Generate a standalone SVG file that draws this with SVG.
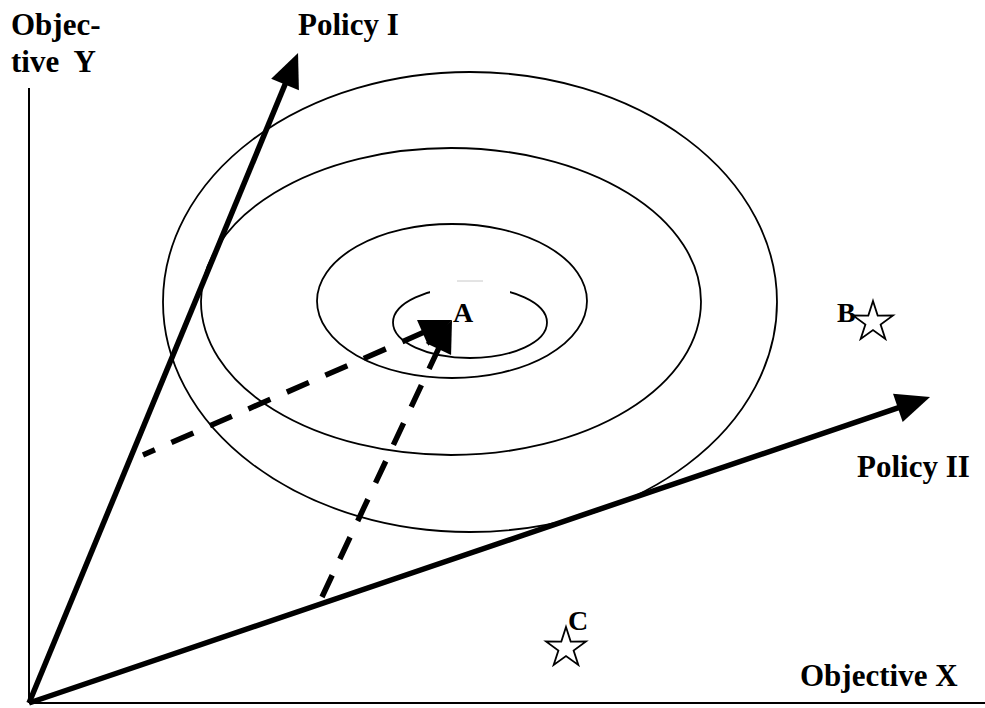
<svg xmlns="http://www.w3.org/2000/svg" width="985" height="708" viewBox="0 0 985 708">
  <style>
    .lbl { font-family: "Liberation Serif", "Times New Roman", serif; font-weight: bold; font-size: 31px; fill: #000; }
    .pt { font-family: "Liberation Serif", "Times New Roman", serif; font-weight: bold; font-size: 28px; fill: #000; }
    .axis { stroke: #000; stroke-width: 2; fill: none; }
    .policy { stroke: #000; stroke-width: 5.5; fill: none; }
    .contour { stroke: #000; stroke-width: 1.8; fill: none; }
    .dash { stroke: #000; stroke-width: 5.5; fill: none; stroke-dasharray: 24 18; }
    .star { fill: #fff; stroke: #000; stroke-width: 1.8; stroke-linejoin: miter; }
  </style>
  <defs>
    <marker id="bigArrow" markerUnits="userSpaceOnUse" markerWidth="34" markerHeight="30" refX="14" refY="15" orient="auto" overflow="visible">
      <path d="M0,0 L34,15 L0,30 Z" fill="#000"/>
    </marker>
    <marker id="dashArrow" markerUnits="userSpaceOnUse" markerWidth="32" markerHeight="28" refX="16" refY="14" orient="auto" overflow="visible">
      <path d="M0,0 L32,14 L0,28 Z" fill="#000"/>
    </marker>
    <path id="starShape" d="M0,-21 L4.7,-6.47 L19.97,-6.49 L7.61,2.47 L12.34,16.99 L0,8 L-12.34,16.99 L-7.61,2.47 L-19.97,-6.49 L-4.7,-6.47 Z"/>
  </defs>

  <rect x="0" y="0" width="985" height="708" fill="#fff"/>

  <g id="axes">
    <line class="axis" x1="29" y1="88" x2="29" y2="703"/>
    <line class="axis" x1="29" y1="703" x2="985" y2="703"/>
    <text class="lbl" x="11" y="35">Objec-</text>
    <text class="lbl" x="11" y="72" xml:space="preserve" style="white-space:pre">tive  Y</text>
    <text class="lbl" x="800" y="686">Objective X</text>
  </g>

  <g id="contours">
    <ellipse class="contour" cx="470" cy="302" rx="307" ry="230"/>
    <ellipse class="contour" cx="451" cy="301.5" rx="250" ry="153.5"/>
    <ellipse class="contour" cx="452" cy="301" rx="135" ry="77"/>
    <ellipse class="contour" cx="470" cy="322.5" rx="77" ry="35.5"/>
    <rect x="430" y="280" width="80" height="17" fill="#fff"/>
    <line x1="457" y1="281" x2="483" y2="281" stroke="#c8c8c8" stroke-width="1"/>
  </g>

  <g id="policy-1">
    <line class="policy" x1="29" y1="703" x2="290.4" y2="71.5" marker-end="url(#bigArrow)"/>
    <text class="lbl" x="298" y="35">Policy I</text>
  </g>

  <g id="policy-2">
    <line class="policy" x1="29" y1="703" x2="911.1" y2="403.4" marker-end="url(#bigArrow)"/>
    <text class="lbl" x="857" y="477">Policy II</text>
  </g>

  <g id="connectors">
    <line class="dash" x1="143" y1="455" x2="437.3" y2="326.4" stroke-dashoffset="11" marker-end="url(#dashArrow)"/>
    <line class="dash" x1="322" y1="597" x2="445.2" y2="334.5" marker-end="url(#dashArrow)"/>
  </g>

  <g id="point-A">
    <text class="pt" x="453" y="322">A</text>
  </g>

  <g id="point-B">
    <use href="#starShape" class="star" transform="translate(873,322)"/>
    <text class="pt" x="837" y="322">B</text>
  </g>

  <g id="point-C">
    <use href="#starShape" class="star" transform="translate(566,648)"/>
    <text class="pt" x="568" y="630">C</text>
  </g>
</svg>
